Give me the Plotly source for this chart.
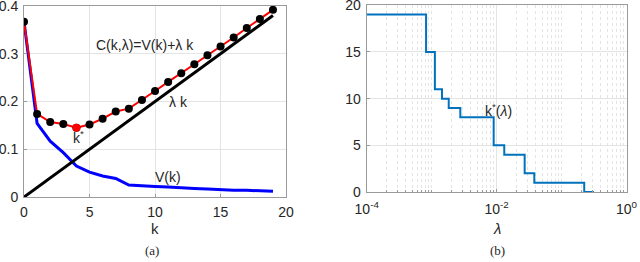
import plotly.graph_objects as go

# ---- data ----
k = list(range(20))
V = [0.367, 0.154, 0.117, 0.093, 0.065, 0.052, 0.044, 0.039, 0.025, 0.023,
     0.022, 0.021, 0.019, 0.018, 0.017, 0.015, 0.014, 0.014, 0.013, 0.012]
lam = 0.02
kstar = 4

lam_steps = [1e-4, 8.2e-4, 1.12e-3, 1.44e-3, 1.83e-3, 2.76e-3, 9.0e-3,
             1.31e-2, 2.70e-2, 3.8e-2, 0.223, 0.314]
kstar_steps = [19, 15, 11, 10, 9, 8, 5, 4, 2, 1, 0, 0]

C = [v + lam * kk for v, kk in zip(V, k)]
LK = [lam * kk for kk in k]

FONT = "Liberation Sans"
TXT = "#262626"
AX = "#9a9a9a"
GRID = "#e4e4e4"

fig = go.Figure()
fig.add_trace(go.Scatter(x=k, y=V, mode="lines", line=dict(color="#0000ff", width=3),
                         xaxis="x", yaxis="y", showlegend=False))
fig.add_trace(go.Scatter(x=k, y=LK, mode="lines", line=dict(color="#000000", width=3),
                         xaxis="x", yaxis="y", showlegend=False))
fig.add_trace(go.Scatter(x=k, y=C, mode="lines+markers",
                         line=dict(color="#ff0000", width=2),
                         marker=dict(color="#000000", size=8),
                         xaxis="x", yaxis="y", showlegend=False))
fig.add_trace(go.Scatter(x=[k[kstar]], y=[C[kstar]], mode="markers",
                         marker=dict(color="#ff0000", size=8),
                         xaxis="x", yaxis="y", showlegend=False))
fig.add_trace(go.Scatter(x=lam_steps, y=kstar_steps, mode="lines", line_shape="hv",
                         line=dict(color="#0072BD", width=2),
                         xaxis="x2", yaxis="y2", showlegend=False))

common = dict(showline=True, mirror=True, linecolor=AX, linewidth=1,
              ticks="inside", ticklen=3, tickcolor=AX,
              showgrid=True, gridcolor=GRID, zeroline=False,
              automargin=False, ticklabeloverflow="allow",
              tickfont=dict(family=FONT, size=14, color=TXT))

fig.update_layout(
    template="none",
    width=640, height=262,
    margin=dict(l=0, r=0, t=0, b=0, pad=0),
    paper_bgcolor="white", plot_bgcolor="white",
    font=dict(family=FONT, size=14, color=TXT),
    xaxis=dict(domain=[0.0375, 0.447], range=[0, 20], dtick=5, anchor="y",
               ticklabelstandoff=2, **common),
    yaxis=dict(domain=[0.248, 0.977], range=[0, 0.4], dtick=0.1, anchor="x",
               ticklabelstandoff=2, **common),
    xaxis2=dict(domain=[0.573, 0.979], type="log", range=[-4, 0], anchor="y2",
                tickvals=[1e-4, 1e-2, 1],
                ticktext=["10<sup>-4</sup>", "10<sup>-2</sup>", "10<sup>0</sup>"],
                ticklabelstandoff=4,
                minor=dict(dtick="D1", showgrid=True, gridcolor=GRID, griddash="dot",
                           ticks="inside", ticklen=2, tickcolor=AX),
                **common),
    yaxis2=dict(domain=[0.267, 0.98], range=[0, 20], dtick=5, anchor="x2",
                ticklabelstandoff=2, **common),
)

def ann(x, y, text, size=14, family=FONT, **kw):
    fig.add_annotation(x=x / 640, y=1 - y / 262, xref="paper", yref="paper",
                       text=text, showarrow=False, xanchor="center", yanchor="middle",
                       font=dict(family=family, size=size, color=TXT), **kw)

ann(145, 45, "C(k,λ)=V(k)+λ k", size=14)
ann(178, 102, "λ k", size=14)
ann(78, 137, "k<sup>*</sup>", size=14)
ann(168, 177, "V(k)", size=14)
ann(155, 228, "k", size=15)
ann(152, 250, "(a)", size=13, family="Liberation Serif")

ann(498, 110, "k<sup>*</sup>(<i>λ</i>)", size=14)
ann(497, 228, "<i>λ</i>", size=15)
ann(497, 250, "(b)", size=13, family="Liberation Serif")

fig.write_html("out.html",
               config={"displayModeBar": False},
               post_script="document.body.style.margin='0';"
                           "document.body.style.overflow='hidden';")
